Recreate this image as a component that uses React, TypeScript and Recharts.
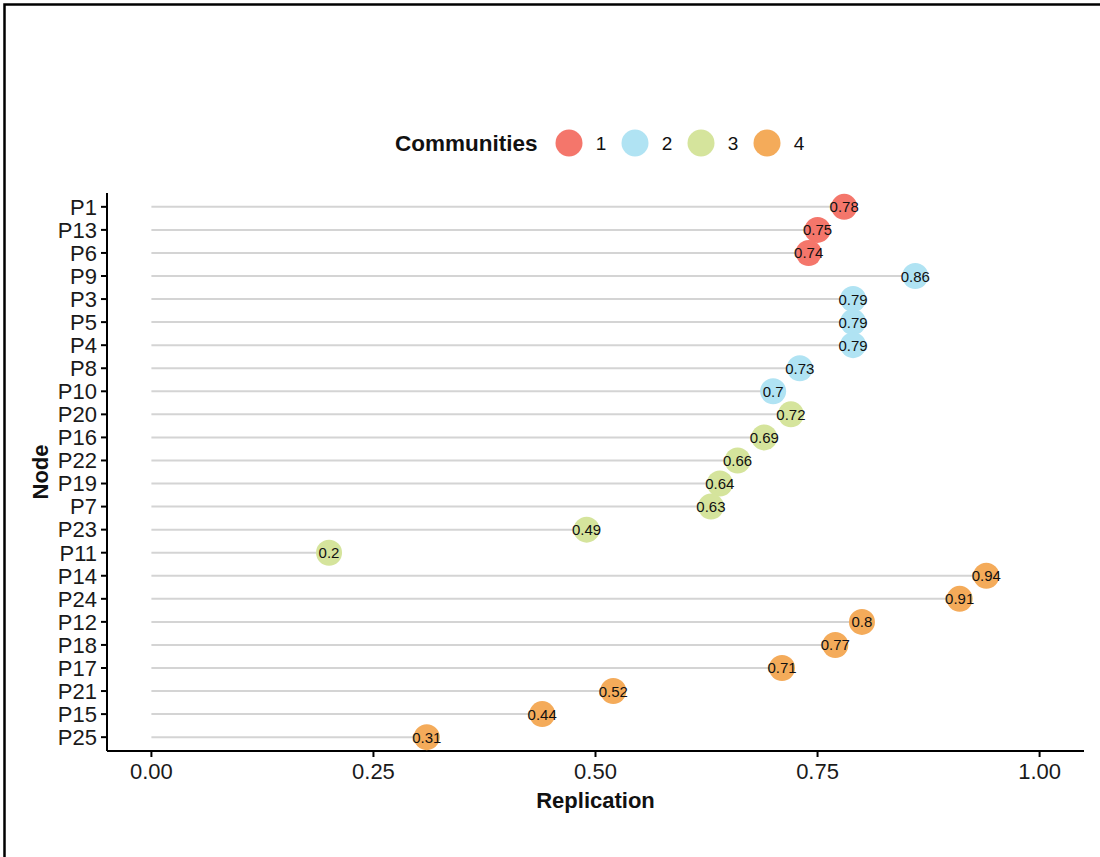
import React from 'react';
import { ScatterChart, Scatter, XAxis, YAxis, ReferenceLine, Label } from 'recharts';

const nodes = ['P1', 'P13', 'P6', 'P9', 'P3', 'P5', 'P4', 'P8', 'P10', 'P20', 'P16', 'P22', 'P19', 'P7', 'P23', 'P11', 'P14', 'P24', 'P12', 'P18', 'P17', 'P21', 'P15', 'P25'];
const replication = [0.78, 0.75, 0.74, 0.86, 0.79, 0.79, 0.79, 0.73, 0.7, 0.72, 0.69, 0.66, 0.64, 0.63, 0.49, 0.2, 0.94, 0.91, 0.8, 0.77, 0.71, 0.52, 0.44, 0.31];
const communities = [1, 1, 1, 2, 2, 2, 2, 2, 2, 3, 3, 3, 3, 3, 3, 3, 4, 4, 4, 4, 4, 4, 4, 4];
const communityLabels = ['1', '2', '3', '4'];
const xTicks = [0, 0.25, 0.5, 0.75, 1];

const palette: Record<number, string> = {
  1: '#F4766B',
  2: '#B0E3F3',
  3: '#D5E49C',
  4: '#F4AB5A',
};

const rows = nodes.map((node, i) => ({
  node,
  row: i,
  value: replication[i],
  community: communities[i],
}));

const FONT = '"Liberation Sans", Arial, Helvetica, sans-serif';

const Dot = (props: any) => {
  const { cx, cy, payload } = props;
  return <circle cx={cx} cy={cy} r={13} fill={palette[payload.community]} />;
};

const ValueText = (props: any) => {
  const { cx, cy, payload } = props;
  return (
    <text x={cx} y={cy} textAnchor="middle" dominantBaseline="central" fontSize={15} fill="#111" fontFamily={FONT}>
      {String(payload.value)}
    </text>
  );
};

// legend key: bold title, then a filled circle + label per community
const CommunityLegend = () => (
  <svg width={500} height={40} style={{ position: 'absolute', left: 390, top: 123 }}>
    <text x={5} y={20} dominantBaseline="central" fontSize={22.5} fontWeight="bold" fill="#111" fontFamily={FONT}>
      Communities
    </text>
    {communityLabels.map((c, i) => {
      const cx = 179 + i * 66;
      return (
        <g key={c}>
          <circle cx={cx} cy={20} r={13.5} fill={palette[i + 1]} />
          <text x={cx + 32} y={20} textAnchor="middle" dominantBaseline="central" fontSize={19} fill="#111" fontFamily={FONT}>
            {c}
          </text>
        </g>
      );
    })}
  </svg>
);

export default function App() {
  return (
    <div style={{ position: 'relative', width: 1100, height: 857, background: '#fff', overflow: 'hidden' }}>
      <style>{'body { margin: 0; }'}</style>
      <ScatterChart width={1100} height={857} margin={{ top: 193, right: 16, bottom: 46, left: 27 }}>
        <XAxis
          type="number"
          dataKey="value"
          domain={[-0.05, 1.05]}
          ticks={xTicks}
          tickFormatter={(v: number) => v.toFixed(2)}
          height={60}
          axisLine={{ stroke: '#000', strokeWidth: 2 }}
          tickLine={{ stroke: '#000', strokeWidth: 2 }}
          tickSize={6}
          tickMargin={6}
          tick={{ fill: '#1a1a1a', fontSize: 22, fontFamily: FONT }}
          allowDataOverflow
        >
          <Label
            content={({ viewBox }: any) => (
              <text
                x={viewBox.x + viewBox.width / 2}
                y={viewBox.y + 57}
                textAnchor="middle"
                fontSize={22}
                fontWeight="bold"
                fill="#111"
                fontFamily={FONT}
              >
                Replication
              </text>
            )}
          />
        </XAxis>
        <YAxis
          type="number"
          dataKey="row"
          domain={[-0.6, 23.6]}
          reversed
          ticks={rows.map((r) => r.row)}
          interval={0}
          tickFormatter={(i: number) => nodes[i]}
          width={80}
          axisLine={{ stroke: '#000', strokeWidth: 2 }}
          tickLine={{ stroke: '#000', strokeWidth: 2 }}
          tickSize={6}
          tickMargin={4}
          tick={{ fill: '#1a1a1a', fontSize: 22, fontFamily: FONT }}
          allowDataOverflow
        >
          <Label
            content={({ viewBox }: any) => {
              const x = viewBox.x + 13;
              const y = viewBox.y + viewBox.height / 2;
              return (
                <text
                  x={x}
                  y={y}
                  transform={`rotate(-90, ${x}, ${y})`}
                  textAnchor="middle"
                  dominantBaseline="central"
                  fontSize={22}
                  fontWeight="bold"
                  fill="#111"
                  fontFamily={FONT}
                >
                  Node
                </text>
              );
            }}
          />
        </YAxis>
        {rows.map((r) => (
          <ReferenceLine
            key={r.node}
            segment={[
              { x: 0, y: r.row },
              { x: r.value, y: r.row },
            ]}
            stroke="#d4d4d4"
            strokeWidth={2}
          />
        ))}
        <Scatter data={rows} shape={<Dot />} isAnimationActive={false} />
        <Scatter data={rows} shape={<ValueText />} isAnimationActive={false} />
      </ScatterChart>
      <CommunityLegend />
      {/* page frame: top and left edges only */}
      <svg width={1100} height={857} style={{ position: 'absolute', left: 0, top: 0, pointerEvents: 'none' }}>
        <path d="M4.5 857 V4.5 H1100" stroke="#000" strokeWidth={2.5} fill="none" />
      </svg>
    </div>
  );
}
